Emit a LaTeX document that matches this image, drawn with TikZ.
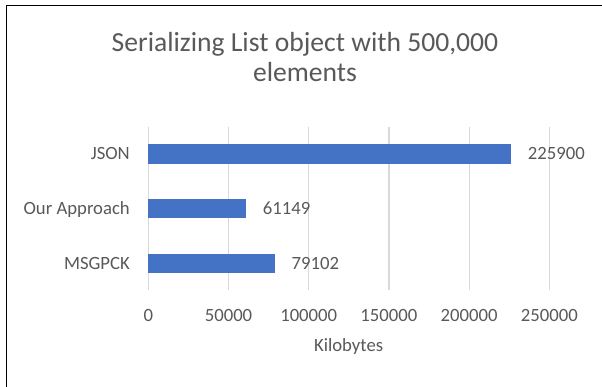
\documentclass[tikz,border=0pt]{standalone}
\usepackage{fontspec}
\setmainfont{Carlito}
\definecolor{bar}{HTML}{4472C4}
\definecolor{grid}{HTML}{D9D9D9}
\definecolor{txt}{HTML}{595959}
\tikzset{
  lbl/.style={inner sep=0pt, anchor=base, text=txt, font=\fontsize{18.7}{21}\selectfont},
  cat/.style={lbl, anchor=base east},
  val/.style={lbl, anchor=base west},
  ttl/.style={inner sep=0pt, anchor=base, text=txt, font=\fontsize{27.6}{31}\selectfont},
  gridline/.style={draw=grid, line width=1.2pt},
  barbox/.style={fill=bar, draw=none}
}
\begin{document}
\begin{tikzpicture}[x=1pt,y=-1pt]
\useasboundingbox (0,0) rectangle (602,387);
\fill[white] (0,0) rectangle (602,387);
% frame
\draw[black, line width=1.6pt] (6.6,387) -- (6.6,5.3);
\draw[black, line width=1.2pt] (6.6,5.3) -- (602,5.3);
% title
\node[ttl] (t1) at (305,52) {Serializing List object with 500,000};
\node[ttl] (t2) at (305,82) {elements};
% gridlines and ticks (k = thousands)
\foreach \k/\lab/\n in {0/0/0,50/50000/1,100/100000/2,150/150000/3,200/200000/4,250/250000/5}{
  \pgfmathsetmacro{\xx}{148.3+\k*1.604}
  \draw[gridline] (\xx,126.7) -- (\xx,290);
  \node[lbl] (tick\n) at (\xx,321.5) {\lab};
}
% bars
\fill[barbox] (148.3,144.4) rectangle ({148.3+225.9*1.604},163.7);
\fill[barbox] (148.3,199.2) rectangle ({148.3+61.149*1.604},218.4);
\fill[barbox] (148.3,253.8) rectangle ({148.3+79.102*1.604},273.0);
% categories
\node[cat] (cjson) at (130,160) {JSON};
\node[cat] (cours) at (130,214.7) {Our Approach};
\node[cat] (cmsg) at (130,269.2) {MSGPCK};
% values
\node[val] (vjson) at (527.7,160) {225900};
\node[val] (vours) at (262.7,214.7) {61149};
\node[val] (vmsg) at (291.5,269.2) {79102};
% axis title
\node[lbl] (xt) at (348.6,351.5) {Kilobytes};
\end{tikzpicture}
\end{document}
